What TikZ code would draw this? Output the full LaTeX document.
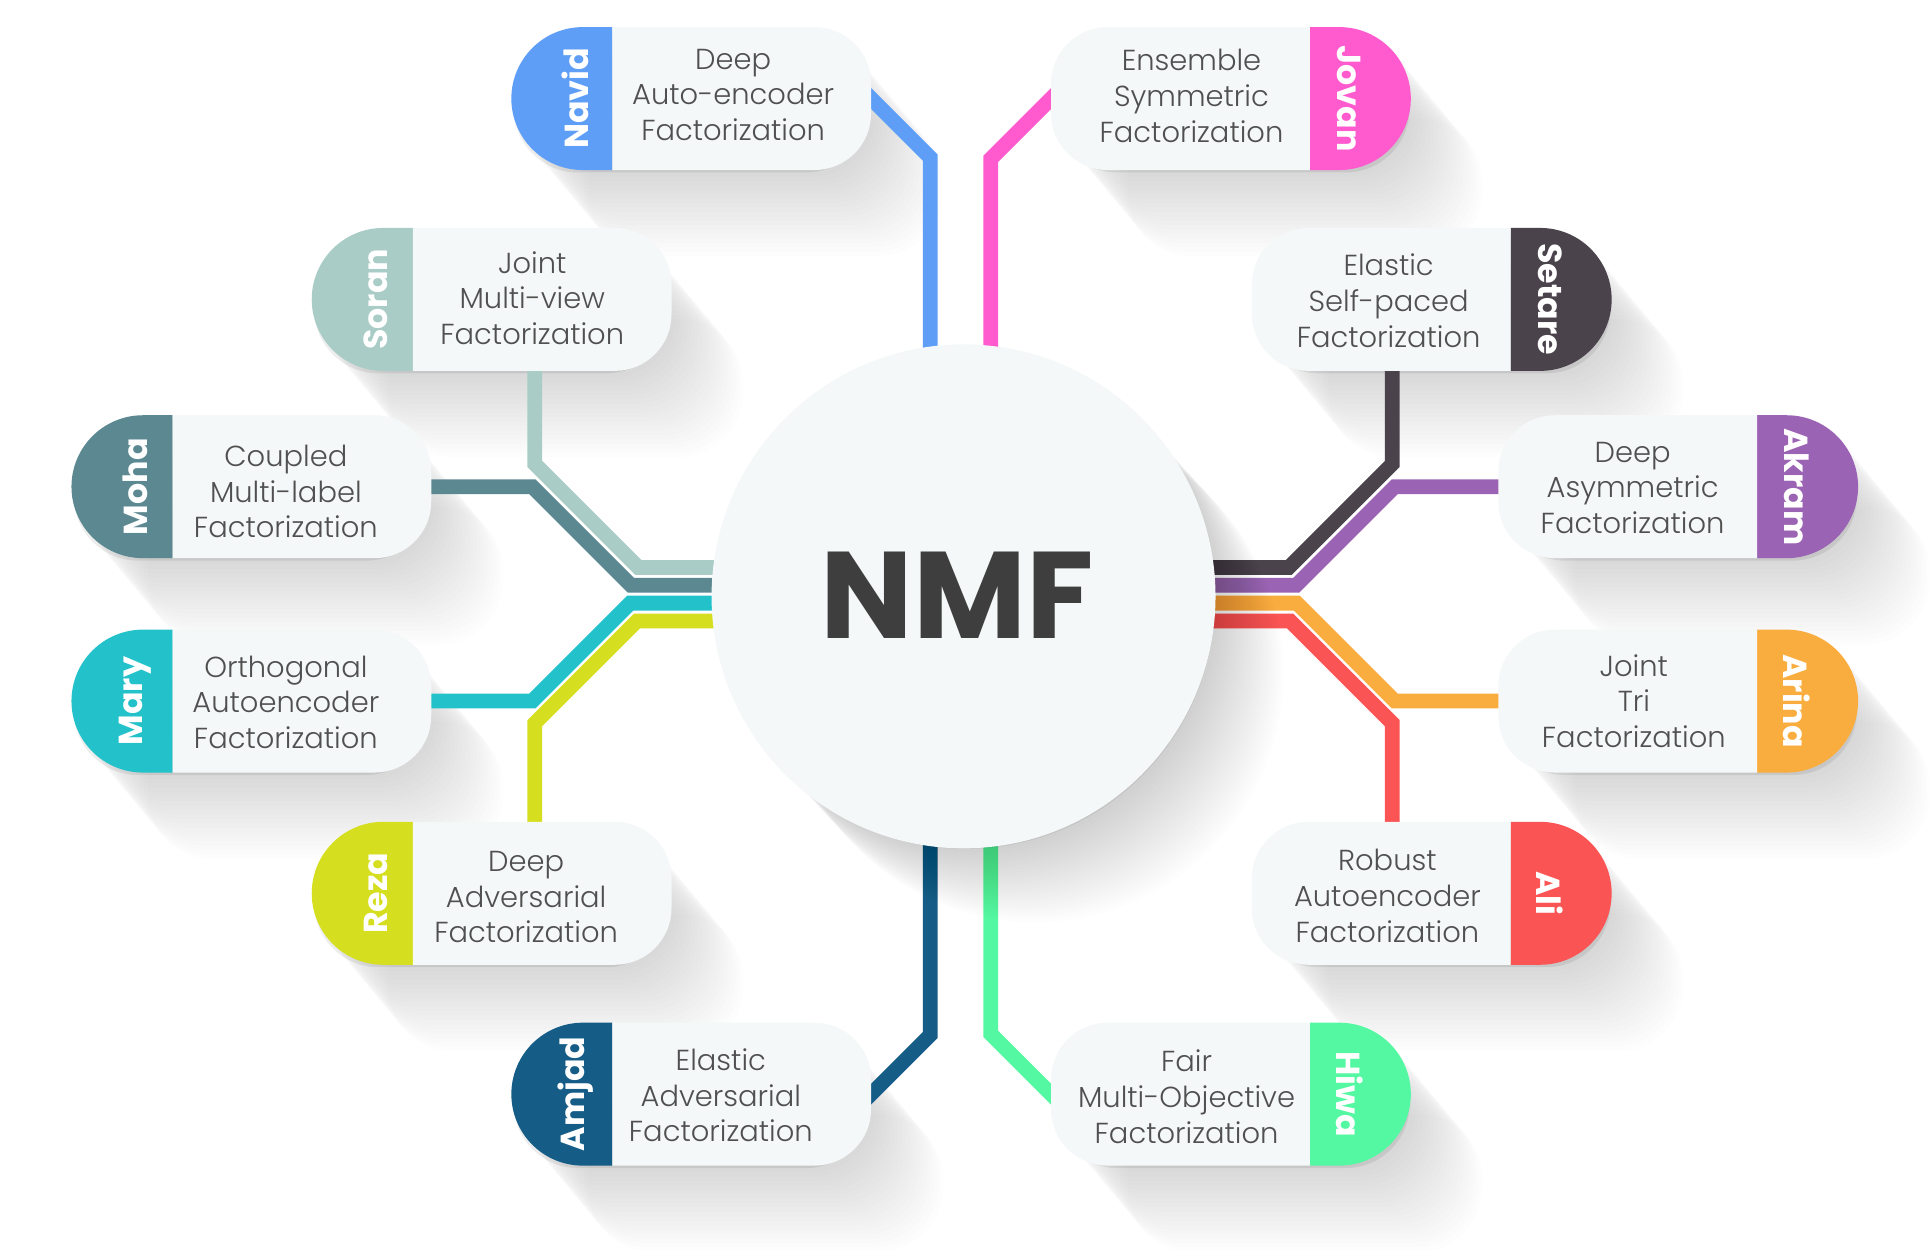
\documentclass[tikz,border=0pt]{standalone}
\usepackage{fontspec}
\setmainfont{Poppins}
\newfontfamily\lightfont{Poppins Light}
\usetikzlibrary{calc}
\definecolor{cNavid}{HTML}{5E9EF6}
\definecolor{cJovan}{HTML}{FF5BCF}
\definecolor{cSoran}{HTML}{A9CCC6}
\definecolor{cSetare}{HTML}{4B434C}
\definecolor{cMoha}{HTML}{5B8891}
\definecolor{cAkram}{HTML}{9B63B3}
\definecolor{cMary}{HTML}{23C2CA}
\definecolor{cArina}{HTML}{F9AD3F}
\definecolor{cReza}{HTML}{D5DE1F}
\definecolor{cAli}{HTML}{FA5454}
\definecolor{cAmjad}{HTML}{155D86}
\definecolor{cHiwa}{HTML}{55F8A2}
\definecolor{pillfill}{HTML}{F5F8F8}
\definecolor{txtgray}{HTML}{505050}
\definecolor{nmfgray}{HTML}{3E3E3E}
\tikzset{
  conn/.style={line width=12pt, line cap=butt, line join=miter},
  pillnode/.style={minimum width=292pt, minimum height=116pt, inner sep=0pt, outer sep=0pt},
  body/.style={font=\lightfont\fontsize{23.5}{29}\selectfont, text=txtgray, align=center, inner sep=0pt},
  namet/.style={font=\bfseries\fontsize{27}{30}\selectfont, text=white, inner sep=0pt},
}
% shadow of a pill: #1 left x, #2 centre y
\newcommand\pillshadow[2]{%
  \foreach \k in {1,...,20}{%
    \fill[black, opacity=0.008, rounded corners=52pt]
      ({#1+2+\k*3},{#2-56+\k*3.6}) rectangle ({#1+290+\k*3},{#2+56+\k*3.6});
  }%
  \fill[black, opacity=0.07, rounded corners=52pt]
      ({#1+2},{#2-56+3}) rectangle ({#1+291},{#2+57+3});
}
% pill with coloured cap on the left: #1 left x, #2 centre y, #3 colour
\newcommand\pillL[3]{%
  \begin{scope}
    \clip (#1,{#2-60}) rectangle ({#1+82},{#2+60});
    \fill[#3, rounded corners=58pt] (#1,{#2-58}) rectangle ({#1+200},{#2+58});
  \end{scope}
  \begin{scope}
    \clip ({#1+82},{#2-60}) rectangle ({#1+295},{#2+60});
    \fill[pillfill, rounded corners=46pt] ({#1+30},{#2-58}) rectangle ({#1+292},{#2+58});
  \end{scope}
}
% pill with coloured cap on the right: #1 left x, #2 centre y, #3 colour
\newcommand\pillR[3]{%
  \begin{scope}
    \clip ({#1+210},{#2-60}) rectangle ({#1+295},{#2+60});
    \fill[#3, rounded corners=58pt] ({#1+92},{#2-58}) rectangle ({#1+292},{#2+58});
  \end{scope}
  \begin{scope}
    \clip ({#1-3},{#2-60}) rectangle ({#1+210},{#2+60});
    \fill[pillfill, rounded corners=46pt] (#1,{#2-58}) rectangle ({#1+262},{#2+58});
  \end{scope}
}
\begin{document}
\begin{tikzpicture}[x=1pt,y=-1pt]
\useasboundingbox (0,0) rectangle (1568,1014);
\fill[white] (0,0) rectangle (1568,1014);

% ---------- named nodes ----------
\node[pillnode] (navid)  at (561,80)  {};
\node[pillnode] (soran)  at (399,243) {};
\node[pillnode] (moha)   at (204,395) {};
\node[pillnode] (mary)   at (204,569) {};
\node[pillnode] (reza)   at (399,725) {};
\node[pillnode] (amjad)  at (561,888) {};
\node[pillnode] (jovan)  at (999,80)  {};
\node[pillnode] (setare) at (1162,243) {};
\node[pillnode] (akram)  at (1362,395) {};
\node[pillnode] (arina)  at (1362,569) {};
\node[pillnode] (ali)    at (1162,725) {};
\node[pillnode] (hiwa)   at (999,888) {};
\coordinate (nmfc) at (782,484);

% ---------- shadows of pills ----------
\pillshadow{415}{80}
\pillshadow{253}{243}
\pillshadow{58}{395}
\pillshadow{58}{569}
\pillshadow{253}{725}
\pillshadow{415}{888}
\pillshadow{853}{80}
\pillshadow{1016}{243}
\pillshadow{1216}{395}
\pillshadow{1216}{569}
\pillshadow{1016}{725}
\pillshadow{853}{888}

% ---------- connectors ----------
\draw[conn,cNavid]  ($(navid.east)+(-10,-10)$) -- (755,128) -- ($(nmfc)+(-27,0)$);
\draw[conn,cJovan]  ($(jovan.west)+(10,-10)$) -- (804,129) -- ($(nmfc)+(22,0)$);
\draw[conn,cAmjad]  ($(amjad.east)+(-10,10)$) -- (755,840) -- ($(nmfc)+(-27,0)$);
\draw[conn,cHiwa]   ($(hiwa.west)+(10,10)$) -- (804,839) -- ($(nmfc)+(22,0)$);

\draw[conn,cSoran]  ($(soran.south)+(35,-6)$) -- (434,376.5) -- (518,460.5) -- ($(nmfc)+(0,-23.5)$);
\draw[conn,cMoha]   ($(moha.east)+(-6,0)$) -- (432,395) -- (512,475) -- ($(nmfc)+(0,-9)$);
\draw[conn,cMary]   ($(mary.east)+(-6,0)$) -- (432,569) -- (511.5,489.5) -- ($(nmfc)+(0,5.5)$);
\draw[conn,cReza]   ($(reza.north)+(35,6)$) -- (434,587) -- (517,504) -- ($(nmfc)+(0,20)$);

\draw[conn,cSetare] ($(setare.south)+(-32,-6)$) -- (1130,376.5) -- (1046,460.5) -- ($(nmfc)+(0,-23.5)$);
\draw[conn,cAkram]  ($(akram.west)+(6,0)$) -- (1132,395) -- (1052,475) -- ($(nmfc)+(0,-9)$);
\draw[conn,cArina]  ($(arina.west)+(6,0)$) -- (1132,569) -- (1052.5,489.5) -- ($(nmfc)+(0,5.5)$);
\draw[conn,cAli]    ($(ali.north)+(-32,6)$) -- (1130,587) -- (1047,504) -- ($(nmfc)+(0,20)$);

% ---------- central circle ----------
\foreach \k in {1,...,24}{%
  \fill[black, opacity=0.009] ($(nmfc)+({\k*2.4},{\k*2.6})$) circle[radius=202pt];
}
\fill[black, opacity=0.05] ($(nmfc)+(2,3)$) circle[radius=202pt];
\node[circle, fill=pillfill, minimum size=409pt, inner sep=0pt] (nmf) at (nmfc) {};
\node[font=\bfseries\fontsize{100}{100}\selectfont, text=nmfgray] (nmflabel) at (777,483) {NMF};

% ---------- pills ----------
\pillL{415}{80}{cNavid}
\pillL{253}{243}{cSoran}
\pillL{58}{395}{cMoha}
\pillL{58}{569}{cMary}
\pillL{253}{725}{cReza}
\pillL{415}{888}{cAmjad}
\pillR{853}{80}{cJovan}
\pillR{1016}{243}{cSetare}
\pillR{1216}{395}{cAkram}
\pillR{1216}{569}{cArina}
\pillR{1016}{725}{cAli}
\pillR{853}{888}{cHiwa}

% ---------- names ----------
\node[namet, rotate=90] (navidN)  at (467,80)  {Navid};
\node[namet, rotate=90] (soranN)  at (305,243) {Soran};
\node[namet, rotate=90] (mohaN)   at (110,395) {Moha};
\node[namet, rotate=90] (maryN)   at (110,569) {Mary};
\node[namet, rotate=90] (rezaN)   at (305,725) {Reza};
\node[namet, rotate=90] (amjadN)  at (467,888) {Amjad};
\node[namet, rotate=-90] (jovanN)  at (1095,80)  {Jovan};
\node[namet, rotate=-90] (setareN) at (1258,243) {Setare};
\node[namet, rotate=-90] (akramN)  at (1458,395) {Akram};
\node[namet, rotate=-90] (arinaN)  at (1458,569) {Arina};
\node[namet, rotate=-90] (aliN)    at (1258,725) {Ali};
\node[namet, rotate=-90] (hiwaN)   at (1095,888) {Hiwa};

% ---------- texts ----------
\node[body] (navidT)  at (595,77)  {Deep\\Auto-encoder\\Factorization};
\node[body] (soranT)  at (432,242) {Joint\\Multi-view\\Factorization};
\node[body] (mohaT)   at (232,399) {Coupled\\Multi-label\\Factorization};
\node[body] (maryT)   at (232,570) {Orthogonal\\Autoencoder\\Factorization};
\node[body] (rezaT)   at (427,728) {Deep\\Adversarial\\Factorization};
\node[body] (amjadT)  at (585,889) {Elastic\\Adversarial\\Factorization};
\node[body] (jovanT)  at (967,78)  {Ensemble\\Symmetric\\Factorization};
\node[body] (setareT) at (1127,244) {Elastic\\Self-paced\\Factorization};
\node[body] (akramT)  at (1325,396) {Deep\\Asymmetric\\Factorization};
\node[body] (arinaT)  at (1326,569) {Joint\\Tri\\Factorization};
\node[body] (aliT)    at (1126,727) {Robust\\Autoencoder\\Factorization};
\node[body] (hiwaT)   at (963,890) {Fair\\Multi-Objective\\Factorization};
\end{tikzpicture}
\end{document}
